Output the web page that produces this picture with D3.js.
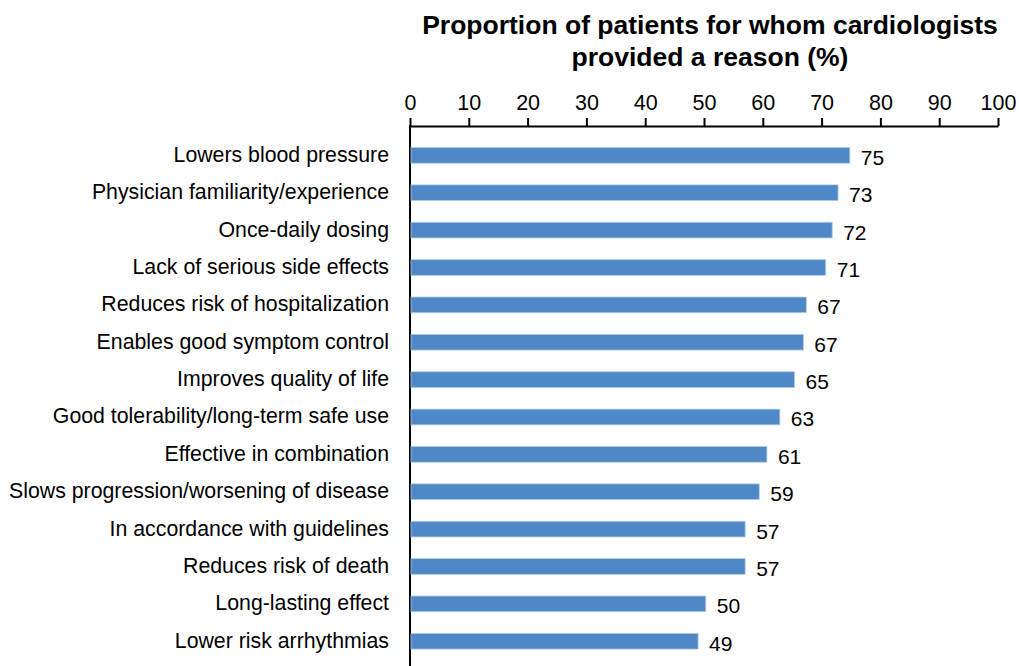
<!DOCTYPE html>
<html>
<head>
<meta charset="utf-8">
<script src="https://cdn.jsdelivr.net/npm/d3@7"></script>
<style>
  body { margin: 0; background: #fff; }
  text { font-family: "Liberation Sans", Arial, sans-serif; fill: #000; }
</style>
</head>
<body>
<div id="chart"></div>
<script>
var categories = ["Lowers blood pressure", "Physician familiarity/experience", "Once-daily dosing",
  "Lack of serious side effects", "Reduces risk of hospitalization", "Enables good symptom control",
  "Improves quality of life", "Good tolerability/long-term safe use", "Effective in combination",
  "Slows progression/worsening of disease", "In accordance with guidelines", "Reduces risk of death",
  "Long-lasting effect", "Lower risk arrhythmias"];
var values = [74.8, 72.8, 71.8, 70.7, 67.4, 66.9, 65.4, 62.9, 60.7, 59.4, 57.0, 57.0, 50.3, 49.0];
var valueLabels = ["75", "73", "72", "71", "67", "67", "65", "63", "61", "59", "57", "57", "50", "49"];
var ticks = [0, 10, 20, 30, 40, 50, 60, 70, 80, 90, 100];

var width = 1019, height = 666;
var svg = d3.select("#chart").append("svg")
  .attr("width", width)
  .attr("height", height);

var x = d3.scaleLinear().domain([0, 100]).range([410, 998]);
var y = d3.scaleBand().domain(categories).range([136.3, 660.3]).paddingInner(0.58).paddingOuter(0.3);

// title
svg.append("text")
  .attr("x", 710).attr("y", 34)
  .attr("text-anchor", "middle")
  .style("font-size", "26.5px").style("font-weight", "bold")
  .text("Proportion of patients for whom cardiologists");
svg.append("text")
  .attr("x", 710).attr("y", 66)
  .attr("text-anchor", "middle")
  .style("font-size", "26.5px").style("font-weight", "bold")
  .text("provided a reason (%)");

// top axis
var xAxis = d3.axisTop(x).tickValues(ticks).tickSize(8).tickSizeOuter(0).tickPadding(8);
var ax = svg.append("g").attr("transform", "translate(0,126)").call(xAxis);
ax.select(".domain").attr("stroke", "#000").attr("stroke-width", 2);
ax.selectAll(".tick line").attr("stroke", "#000").attr("stroke-width", 2);
ax.selectAll(".tick text").style("font-size", "21.5px")
  .style("font-family", "'Liberation Sans', Arial, sans-serif");

// vertical axis line
svg.append("line")
  .attr("x1", x(0)).attr("x2", x(0))
  .attr("y1", 125).attr("y2", height)
  .attr("stroke", "#000").attr("stroke-width", 2);

// bars
svg.selectAll("rect.bar")
  .data(values)
  .enter().append("rect")
  .attr("class", "bar")
  .attr("x", x(0) + 1)
  .attr("y", function(d, i) { return y(categories[i]); })
  .attr("width", function(d) { return x(d) - x(0) - 1; })
  .attr("height", y.bandwidth())
  .attr("fill", "#4F88C6")
  .attr("stroke", "#b4cbe8")
  .attr("stroke-width", 0.8);

// value labels
svg.selectAll("text.val")
  .data(values)
  .enter().append("text")
  .attr("class", "val")
  .attr("x", function(d) { return x(d) + 11; })
  .attr("y", function(d, i) { return y(categories[i]) + y.bandwidth() / 2 + 9.5; })
  .style("font-size", "21px")
  .text(function(d, i) { return valueLabels[i]; });

// category labels
svg.selectAll("text.cat")
  .data(categories)
  .enter().append("text")
  .attr("class", "cat")
  .attr("x", 389)
  .attr("y", function(d) { return y(d) + y.bandwidth() / 2 + 6.5; })
  .attr("text-anchor", "end")
  .style("font-size", "21.3px")
  .text(function(d) { return d; });
</script>
</body>
</html>
